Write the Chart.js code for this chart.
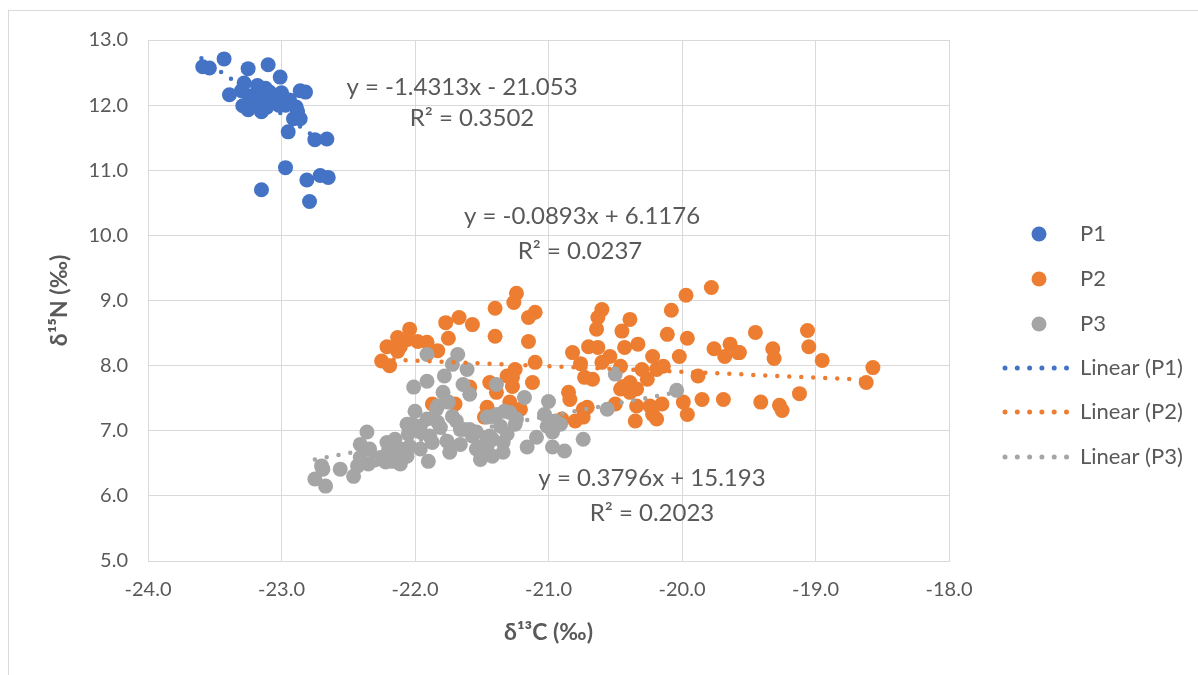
<!DOCTYPE html>
<html>
<head>
<meta charset="utf-8">
<script src="https://cdn.jsdelivr.net/npm/chart.js@4.4.1/dist/chart.umd.min.js"></script>
<style>
    html, body { margin: 0; padding: 0; background: #fff; }
    #wrap { position: relative; width: 1198px; height: 675px; overflow: hidden; }
    #frame { position: absolute; left: 8px; top: 10px; width: 1200px; height: 680px; border: 1px solid #d9d9d9; box-sizing: border-box; }
    canvas { position: absolute; left: 0; top: 0; }
</style>
</head>
<body>
<div id="wrap">
    <div id="frame"></div>
    <canvas id="isoChart" width="1198" height="675"></canvas>
</div>
<script>
// δ13C / δ15N values
const p1C = [-23.59, -23.54, -23.43, -23.25, -23.10, -23.01, -23.28, -23.30, -23.18, -23.12,
             -22.86, -22.82, -23.00, -22.94, -23.29, -23.25, -23.15, -23.11, -22.89, -22.88,
             -22.91, -22.95, -22.75, -22.66, -22.97, -22.81, -22.71, -22.65, -23.15, -22.79,
             -23.39, -23.22, -23.05, -22.97, -23.15, -22.86, -23.02, -23.18, -23.09, -23.24];
const p1N = [12.59, 12.57, 12.71, 12.56, 12.62, 12.43, 12.34, 12.22, 12.16, 12.26,
             12.22, 12.20, 12.19, 12.08, 11.99, 11.93, 11.90, 11.97, 11.97, 11.90,
             11.79, 11.59, 11.47, 11.48, 11.04, 10.85, 10.92, 10.89, 10.70, 10.52,
             12.16, 12.03, 12.13, 12.00, 12.08, 11.79, 12.00, 12.30, 12.20, 12.14];

const p2C = [-19.78, -19.97, -20.08, -20.11, -19.96, -19.76, -19.64, -19.68, -19.58, -20.02,
             -20.60, -20.63, -20.64, -20.39, -20.45, -20.33, -20.43, -20.82, -20.76, -20.70,
             -20.63, -20.54, -20.60, -20.46, -20.67, -20.73, -20.39, -20.30, -20.22, -20.19,
             -20.14, -20.26, -20.39, -20.44, -20.34, -20.85, -20.84, -20.74, -20.50, -20.34,
             -20.24, -20.22, -20.35, -19.99, -19.96, -19.88, -19.85, -19.69, -20.80, -19.45,
             -19.57, -19.32, -19.31, -19.06, -19.05, -18.95, -18.57, -18.62, -19.12, -19.41,
             -19.27, -19.25, -21.24, -21.26, -21.40, -21.10, -21.15, -21.77, -21.67, -21.57,
             -21.40, -21.15, -21.75, -22.04, -22.13, -22.21, -22.06, -21.98, -21.91, -21.83,
             -22.25, -22.19, -22.13, -22.11, -21.10, -21.31, -21.25, -21.12, -21.44, -21.39,
             -21.27, -21.46, -21.29, -21.21, -21.59, -21.70, -21.87, -21.48, -21.27, -20.90,
             -20.71, -20.74, -20.46, -20.19, -20.15];
const p2N = [9.20, 9.08, 8.85, 8.48, 8.42, 8.26, 8.33, 8.14, 8.20, 8.14,
             8.86, 8.74, 8.56, 8.71, 8.53, 8.33, 8.28, 8.20, 8.03, 8.29,
             8.28, 8.14, 8.05, 7.99, 7.79, 7.82, 7.74, 7.94, 8.14, 7.94,
             7.99, 7.79, 7.59, 7.68, 7.64, 7.59, 7.48, 7.33, 7.41, 7.38,
             7.38, 7.25, 7.15, 7.44, 7.25, 7.84, 7.48, 7.48, 7.15, 8.51,
             8.20, 8.26, 8.11, 8.54, 8.29, 8.08, 7.97, 7.74, 7.57, 7.44,
             7.39, 7.31, 9.11, 8.97, 8.88, 8.82, 8.74, 8.66, 8.74, 8.63,
             8.45, 8.37, 8.42, 8.56, 8.43, 8.29, 8.40, 8.37, 8.36, 8.23,
             8.07, 8.00, 8.22, 8.29, 8.05, 7.84, 7.94, 7.74, 7.74, 7.59,
             7.68, 7.36, 7.44, 7.33, 7.67, 7.41, 7.41, 7.21, 7.82, 7.18,
             7.36, 7.21, 7.64, 7.18, 7.41];

const p3C = [-22.69, -22.75, -22.67, -22.70, -22.56, -22.46, -22.43, -22.41, -22.36, -22.41,
             -22.34, -22.26, -22.21, -22.22, -22.13, -22.11, -22.06, -22.04, -22.05, -22.02,
             -22.00, -22.01, -21.91, -21.78, -21.64, -21.59, -21.79, -21.75, -21.84, -21.91,
             -21.96, -21.89, -21.81, -21.72, -21.69, -21.76, -21.74, -21.90, -21.66, -21.59,
             -21.57, -21.50, -21.51, -21.46, -21.91, -21.68, -21.61, -21.39, -21.18, -21.00,
             -21.03, -22.06, -21.96, -21.83, -21.63, -21.54, -21.42, -21.33, -21.24, -21.31,
             -21.42, -21.54, -21.66, -21.87, -21.96, -22.15, -21.16, -21.09, -20.97, -21.01,
             -20.91, -20.88, -20.97, -20.74, -20.56, -20.50, -21.29, -21.39, -21.46, -21.36,
             -21.44, -21.34, -21.46, -21.42, -21.34, -21.25, -21.72, -21.83, -20.04, -20.95,
             -22.17, -22.20, -22.11, -22.35, -22.30];
const p3N = [6.41, 6.26, 6.15, 6.46, 6.41, 6.30, 6.46, 6.59, 6.98, 6.79,
             6.72, 6.59, 6.82, 6.52, 6.59, 6.72, 6.61, 6.76, 6.95, 7.10,
             7.30, 7.67, 7.76, 7.84, 7.71, 7.56, 7.59, 7.44, 7.33, 7.18,
             6.98, 6.92, 7.05, 7.22, 7.15, 6.84, 6.67, 6.53, 7.02, 7.02,
             6.92, 6.76, 6.56, 6.90, 8.17, 8.17, 7.94, 7.71, 7.51, 7.45,
             7.25, 7.10, 7.07, 7.13, 7.02, 6.98, 7.22, 7.30, 7.18, 6.95,
             6.87, 6.72, 6.79, 6.82, 6.72, 6.87, 6.75, 6.90, 6.98, 7.07,
             7.10, 6.69, 6.75, 6.87, 7.33, 7.87, 7.28, 7.25, 7.21, 7.07,
             6.92, 6.82, 6.76, 6.61, 6.67, 7.10, 8.02, 7.38, 7.62, 7.15,
             6.53, 6.69, 6.49, 6.49, 6.55];

// trendline end points (x range of each series)
const trend1C = [-23.60, -22.65];
const trend1N = [12.72, 11.37];
const trend2C = [-22.25, -18.57];
const trend2N = [8.10, 7.78];
const trend3C = [-22.75, -20.04];
const trend3N = [6.56, 7.59];

const seriesNames = ['P1', 'P2', 'P3'];
const trendNames = ['Linear (P1)', 'Linear (P2)', 'Linear (P3)'];
const trendText = [
    ['y = -1.4313x - 21.053', 'R² = 0.3502'],
    ['y = -0.0893x + 6.1176', 'R² = 0.0237'],
    ['y = 0.3796x + 15.193', 'R² = 0.2023']
];

const xTitle = 'δ¹³C (‰)';
const yTitle = 'δ¹⁵N (‰)';

const COLORS = ['#4472c4', '#ed7d31', '#a5a5a5'];
const FONT = "Lato, 'Noto Sans', 'DejaVu Sans', sans-serif";
const TEXT = '#595959';
const GRID = '#d9d9d9';

const toPts = (xs, ys) => xs.map((x, i) => ({ x: x, y: ys[i] }));

function pointSet(label, xs, ys, color, order) {
    return {
        label: label,
        data: toPts(xs, ys),
        backgroundColor: color,
        borderColor: color,
        borderWidth: 0,
        pointRadius: 7.5,
        pointHoverRadius: 7.5,
        order: order
    };
}

function trendSet(label, xs, ys, color) {
    return {
        label: label,
        data: toPts(xs, ys),
        showLine: true,
        borderColor: color,
        backgroundColor: color,
        borderWidth: 4.5,
        borderDash: [0, 12],
        borderCapStyle: 'round',
        pointRadius: 0,
        pointHoverRadius: 0,
        order: 0
    };
}

// equation labels (centre positions in canvas pixels)
const eqPos = [[462, 87, 472, 118], [582, 216, 580, 251], [652, 478, 652, 513]];

const equationPlugin = {
    id: 'equations',
    afterDatasetsDraw(chart) {
        const ctx = chart.ctx;
        ctx.save();
        ctx.fillStyle = TEXT;
        ctx.font = '24px ' + FONT;
        ctx.textAlign = 'center';
        ctx.textBaseline = 'middle';
        trendText.forEach((lines, i) => {
            const p = eqPos[i];
            ctx.fillText(lines[0], p[0], p[1]);
            ctx.fillText(lines[1], p[2], p[3]);
        });
        ctx.restore();
    }
};

const legendRows = [234, 279, 324, 368, 412, 457];

const sideLegend = {
    id: 'sideLegend',
    afterDraw(chart) {
        const ctx = chart.ctx;
        ctx.save();
        ctx.font = '22px ' + FONT;
        ctx.textBaseline = 'middle';
        ctx.textAlign = 'left';
        seriesNames.forEach((name, i) => {
            const y = legendRows[i];
            ctx.fillStyle = COLORS[i];
            ctx.beginPath();
            ctx.arc(1039, y, 7.5, 0, Math.PI * 2);
            ctx.fill();
            ctx.fillStyle = TEXT;
            ctx.fillText(name, 1080, y);
        });
        trendNames.forEach((name, i) => {
            const y = legendRows[i + 3];
            ctx.fillStyle = COLORS[i];
            for (let k = 0; k < 6; k++) {
                ctx.beginPath();
                ctx.arc(1005 + k * 12.3, y, 2.5, 0, Math.PI * 2);
                ctx.fill();
            }
            ctx.fillStyle = TEXT;
            ctx.fillText(name, 1080, y);
        });
        ctx.restore();
    }
};

const ctx = document.getElementById('isoChart').getContext('2d');
new Chart(ctx, {
    type: 'scatter',
    data: {
        datasets: [
            trendSet(trendNames[0], trend1C, trend1N, COLORS[0]),
            trendSet(trendNames[1], trend2C, trend2N, COLORS[1]),
            trendSet(trendNames[2], trend3C, trend3N, COLORS[2]),
            pointSet(seriesNames[2], p3C, p3N, COLORS[2], 1),
            pointSet(seriesNames[1], p2C, p2N, COLORS[1], 2),
            pointSet(seriesNames[0], p1C, p1N, COLORS[0], 3)
        ]
    },
    options: {
        responsive: false,
        animation: false,
        layout: { padding: { left: 40, right: 249, top: 40, bottom: 0 } },
        plugins: {
            legend: { display: false },
            tooltip: { enabled: false }
        },
        scales: {
            x: {
                type: 'linear',
                min: -24,
                max: -18,
                afterFit: (scale) => { scale.height = 114; },
                grid: { color: GRID, lineWidth: 1, drawTicks: false },
                border: { color: GRID },
                ticks: {
                    stepSize: 1,
                    padding: 17,
                    maxRotation: 0,
                    autoSkip: false,
                    color: TEXT,
                    font: { family: FONT, size: 20 },
                    callback: (v) => v.toFixed(1)
                },
                title: {
                    display: true,
                    text: xTitle,
                    color: TEXT,
                    font: { family: FONT, size: 23, weight: 'bold' },
                    padding: { top: 0, bottom: 29 }
                }
            },
            y: {
                type: 'linear',
                min: 5,
                max: 13,
                afterFit: (scale) => { scale.width = 108; },
                grid: { color: GRID, lineWidth: 1, drawTicks: false },
                border: { color: GRID },
                ticks: {
                    stepSize: 1,
                    padding: 20,
                    color: TEXT,
                    font: { family: FONT, size: 20 },
                    callback: (v) => v.toFixed(1)
                },
                title: {
                    display: true,
                    text: yTitle,
                    color: TEXT,
                    font: { family: FONT, size: 23, weight: 'bold' },
                    padding: { top: 6, bottom: 0 }
                }
            }
        }
    },
    plugins: [equationPlugin, sideLegend]
});
</script>
</body>
</html>
